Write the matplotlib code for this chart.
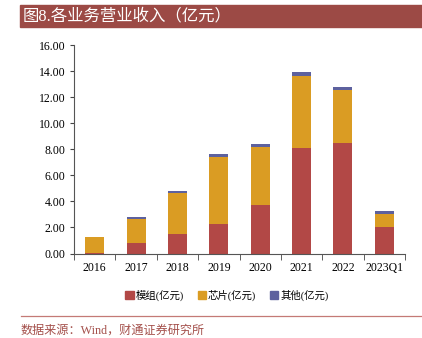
import matplotlib
matplotlib.use("Agg")
import matplotlib.pyplot as plt
from matplotlib.patches import Rectangle, Patch
from matplotlib.lines import Line2D

plt.rcParams['font.family'] = ['Liberation Serif', 'Noto Sans CJK SC', 'DejaVu Sans']

categories = ['2016', '2017', '2018', '2019', '2020', '2021', '2022', '2023Q1']
module = [0.04, 0.80, 1.46, 2.25, 3.75, 8.08, 8.50, 2.00]
chip = [1.24, 1.82, 3.16, 5.15, 4.40, 5.54, 4.02, 1.04]
other = [0.00, 0.15, 0.20, 0.22, 0.25, 0.33, 0.28, 0.25]
series_names = ['模组(亿元)', '芯片(亿元)', '其他(亿元)']
yticks = [0, 2, 4, 6, 8, 10, 12, 14, 16]

c_mod = '#B24846'
c_chip = '#DA9C23'
c_oth = '#5D619E'
banner = '#9C4A45'

W, H = 422, 338
fig = plt.figure(figsize=(W / 100, H / 100), dpi=100)

# title banner
fig.patches.append(Rectangle((20 / W, 1 - 27 / H), 402 / W, 22 / H,
                             transform=fig.transFigure, color=banner, zorder=0))
fig.text(23 / W, 1 - 16.5 / H, '图8.各业务营业收入（亿元）', color='white',
         fontsize=11.8, va='center', ha='left')

ax = fig.add_axes([74 / W, 1 - 253.5 / H, 331 / W, 208.5 / H])
x = list(range(len(categories)))
bw = 0.46
b2 = [m + c for m, c in zip(module, chip)]
ax.bar(x, module, bw, color=c_mod, zorder=2)
ax.bar(x, chip, bw, bottom=module, color=c_chip, zorder=2)
ax.bar(x, other, bw, bottom=b2, color=c_oth, zorder=2)

ax.set_xlim(-0.5, len(categories) - 0.5)
ax.set_ylim(0, 16)
ax.set_yticks(yticks)
ax.set_yticklabels([f'{v:.2f}' for v in yticks], fontsize=8.5)
ax.set_xticks(x)
ax.set_xticklabels(categories, fontsize=8.5)
ax.set_xticks([i - 0.5 for i in range(len(categories) + 1)], minor=True)
ax.tick_params(axis='x', which='major', length=0, pad=6)
ax.tick_params(axis='x', which='minor', length=4, direction='out', color='#444444')
ax.tick_params(axis='y', length=3, direction='out', color='#444444', pad=3)
for s in ['top', 'right']:
    ax.spines[s].set_visible(False)
ax.spines['left'].set_color('#555555')
ax.spines['bottom'].set_color('#555555')
ax.spines['left'].set_linewidth(0.8)
ax.spines['bottom'].set_linewidth(0.8)

handles = [Patch(color=c) for c in (c_mod, c_chip, c_oth)]
fig.legend(handles, series_names, loc='center', bbox_to_anchor=(227 / W, 1 - 295 / H),
           ncol=3, frameon=False, fontsize=7.5, handlelength=0.8, handleheight=0.8,
           handletextpad=0.2, columnspacing=1.3)

# source line
fig.add_artist(Line2D([21 / W, 421 / W], [1 - 315.7 / H, 1 - 315.7 / H],
                      transform=fig.transFigure, color='#C47A76', lw=0.9))
fig.text(21 / W, 1 - 331 / H, '数据来源：Wind，财通证券研究所', color='#A4504B',
         fontsize=8.7, va='center', ha='left')

fig.savefig('out.png', dpi=100)
